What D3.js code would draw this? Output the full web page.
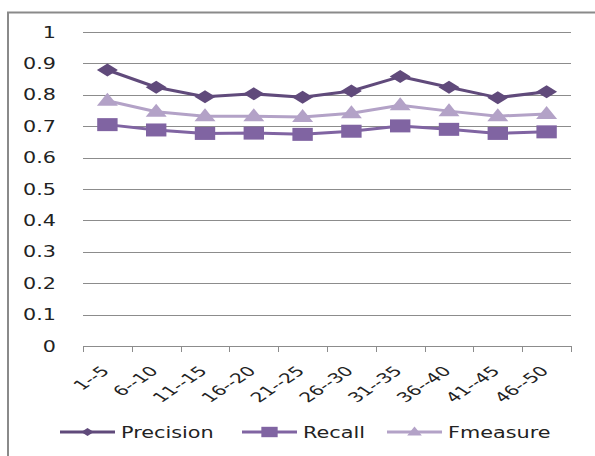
<!DOCTYPE html>
<html><head><meta charset="utf-8">
<script src="https://cdn.jsdelivr.net/npm/d3@7"></script>
<style>
html,body{margin:0;padding:0;background:#fff;}
svg{display:block;}
text{font-family:"DejaVu Sans",sans-serif;fill:#222;}
</style></head>
<body>
<svg id="c" width="595" height="456"></svg>
<script>
const categories = ["1--5","6--10","11--15","16--20","21--25","26--30","31--35","36--40","41--45","46--50"];
const precision = [0.879,0.824,0.794,0.803,0.792,0.812,0.858,0.824,0.791,0.810];
const recall    = [0.705,0.688,0.677,0.678,0.674,0.684,0.701,0.690,0.677,0.682];
const fmeasure  = [0.781,0.746,0.732,0.732,0.729,0.741,0.767,0.748,0.732,0.739];
const yTicks = [0,0.1,0.2,0.3,0.4,0.5,0.6,0.7,0.8,0.9,1];
const yTickLabels = ["0","0.1","0.2","0.3","0.4","0.5","0.6","0.7","0.8","0.9","1"];
const seriesNames = ["Precision","Recall","Fmeasure"];

const colors = ["#604A7B","#8064A2","#B3A2C7"];
const svg = d3.select("#c");
const SX = 1.5; // horizontal stretch of the picture

// frame
svg.append("path").attr("d","M8,456 L8,12.5 L595,12.5").attr("fill","none")
  .attr("stroke","#8a8a8a").attr("stroke-width",2);

const x = d3.scaleBand().domain(categories).range([83,571]).padding(0);
const y = d3.scaleLinear().domain([0,1]).range([346,32]);

// gridlines
svg.append("g").selectAll("line").data(yTicks.filter(d=>d>0)).join("line")
  .attr("x1",83).attr("x2",571).attr("y1",d=>Math.round(y(d))+0.5).attr("y2",d=>Math.round(y(d))+0.5)
  .attr("stroke","#8c8c8c").attr("stroke-width",1);

// x axis line + ticks at band edges
const ax = svg.append("g");
ax.append("line").attr("x1",83).attr("x2",571).attr("y1",y(0)+0.5).attr("y2",y(0)+0.5)
  .attr("stroke","#8c8c8c").attr("stroke-width",1);
const edges = categories.map(c=>x(c)).concat([x(categories[categories.length-1])+x.bandwidth()]);
ax.selectAll("line.t").data(edges).join("line").attr("class","t")
  .attr("x1",d=>Math.round(d)+0.5).attr("x2",d=>Math.round(d)+0.5)
  .attr("y1",y(0)).attr("y2",y(0)+6).attr("stroke","#8c8c8c").attr("stroke-width",1);

// y labels
svg.append("g").selectAll("text").data(yTicks).join("text")
  .attr("transform",d=>`translate(56,${y(d)+5.5}) scale(1.38,1)`)
  .attr("text-anchor","end").attr("font-size",15)
  .text((d,i)=>yTickLabels[i]);

// x labels
svg.append("g").selectAll("text").data(categories).join("text")
  .attr("transform",d=>`translate(${x(d)+x.bandwidth()/2+3},${y(0)+26}) scale(${SX},1) rotate(-45)`)
  .attr("text-anchor","end").attr("font-size",13.5)
  .text(d=>d);

// marker symbols
const diamond = {draw(ctx,s){ctx.moveTo(0,-6.5);ctx.lineTo(7,0);ctx.lineTo(0,6.5);ctx.lineTo(-7,0);ctx.closePath();}};
const square = {draw(ctx,s){ctx.rect(-6.8,-6.5,13.6,13);}};
const tri = {draw(ctx,s){ctx.moveTo(0,-8);ctx.lineTo(7,5);ctx.lineTo(-7,5);ctx.closePath();}};
const shapes = [diamond,square,tri];
const data = [precision,recall,fmeasure];

const line = d3.line().x((d,i)=>x(categories[i])+x.bandwidth()/2).y(d=>y(d));
// draw order: Fmeasure, Recall, Precision (precision on top)
[2,1,0].forEach(k=>{
  const g = svg.append("g");
  g.append("path").attr("d",line(data[k])).attr("fill","none")
    .attr("stroke",colors[k]).attr("stroke-width",3).attr("stroke-linejoin","round");
  g.selectAll("path.m").data(data[k]).join("path").attr("class","m")
    .attr("d",d3.symbol(shapes[k]))
    .attr("transform",(d,i)=>`translate(${x(categories[i])+x.bandwidth()/2},${y(d)}) scale(${SX},1)`)
    .attr("fill",colors[k]);
});

// legend
const legendX = [60,242,387];
const lg = svg.append("g");
seriesNames.forEach((n,k)=>{
  const lx = legendX[k], ly = 432;
  lg.append("line").attr("x1",lx).attr("x2",lx+55).attr("y1",ly).attr("y2",ly)
    .attr("stroke",colors[k]).attr("stroke-width",3);
  const sc = [0.6,0.8,0.7][k];
  lg.append("path").attr("d",d3.symbol(shapes[k]))
    .attr("transform",`translate(${lx+27.5},${ly}) scale(${SX*sc},${sc})`).attr("fill",colors[k]);
  lg.append("text").attr("transform",`translate(${lx+61},${ly+6}) scale(1.26,1)`)
    .attr("font-size",16.5).text(n);
});
</script>
</body></html>
